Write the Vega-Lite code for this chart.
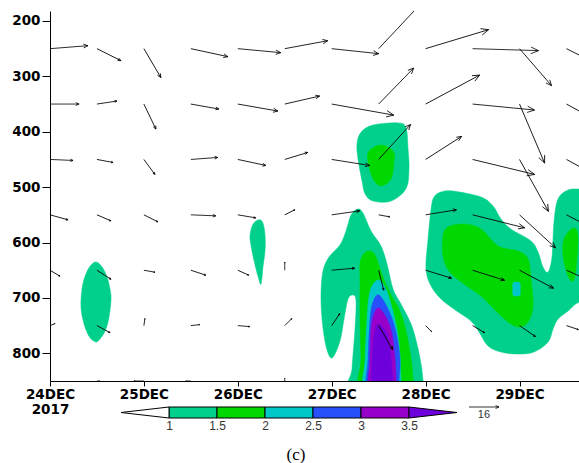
{
  "$schema": "https://vega.github.io/schema/vega-lite/v6.json",
  "padding": {"left": 11, "top": 11, "right": 0, "bottom": 0},
  "config": {"view": {"stroke": null}, "axis": {"domainColor": "#000", "tickColor": "#000", "labelColor": "#000", "grid": false}},
  "title": {"text": "(c)", "orient": "bottom", "anchor": "middle", "frame": "bounds", "offset": 16, "font": "Liberation Serif", "fontSize": 17, "fontWeight": "normal", "color": "#000"},
  "datasets": {
    "poly": [
      {"id":"a","lev":1,"o":0,"t":0.490,"p":635},{"id":"a","lev":1,"o":1,"t":0.554,"p":644},{"id":"a","lev":1,"o":2,"t":0.607,"p":662},{"id":"a","lev":1,"o":3,"t":0.639,"p":684},{"id":"a","lev":1,"o":4,"t":0.650,"p":702},{"id":"a","lev":1,"o":5,"t":0.628,"p":735},{"id":"a","lev":1,"o":6,"t":0.586,"p":760},{"id":"a","lev":1,"o":7,"t":0.511,"p":778},{"id":"a","lev":1,"o":8,"t":0.469,"p":778},{"id":"a","lev":1,"o":9,"t":0.415,"p":769},{"id":"a","lev":1,"o":10,"t":0.362,"p":747},{"id":"a","lev":1,"o":11,"t":0.330,"p":717},{"id":"a","lev":1,"o":12,"t":0.341,"p":684},{"id":"a","lev":1,"o":13,"t":0.373,"p":661},{"id":"a","lev":1,"o":14,"t":0.426,"p":643},
      {"id":"b","lev":1,"o":0,"t":2.226,"p":559},{"id":"b","lev":1,"o":1,"t":2.268,"p":565},{"id":"b","lev":1,"o":2,"t":2.290,"p":587},{"id":"b","lev":1,"o":3,"t":2.290,"p":615},{"id":"b","lev":1,"o":4,"t":2.268,"p":644},{"id":"b","lev":1,"o":5,"t":2.247,"p":675},{"id":"b","lev":1,"o":6,"t":2.215,"p":661},{"id":"b","lev":1,"o":7,"t":2.173,"p":633},{"id":"b","lev":1,"o":8,"t":2.141,"p":606},{"id":"b","lev":1,"o":9,"t":2.130,"p":587},{"id":"b","lev":1,"o":10,"t":2.162,"p":567},
      {"id":"c","lev":1,"o":0,"t":3.312,"p":401},{"id":"c","lev":1,"o":1,"t":3.440,"p":388},{"id":"c","lev":1,"o":2,"t":3.706,"p":384},{"id":"c","lev":1,"o":3,"t":3.791,"p":393},{"id":"c","lev":1,"o":4,"t":3.813,"p":431},{"id":"c","lev":1,"o":5,"t":3.823,"p":467},{"id":"c","lev":1,"o":6,"t":3.791,"p":503},{"id":"c","lev":1,"o":7,"t":3.632,"p":525},{"id":"c","lev":1,"o":8,"t":3.440,"p":525},{"id":"c","lev":1,"o":9,"t":3.355,"p":512},{"id":"c","lev":1,"o":10,"t":3.323,"p":489},{"id":"c","lev":1,"o":11,"t":3.280,"p":449},{"id":"c","lev":1,"o":12,"t":3.269,"p":422},
      {"id":"e","lev":1,"o":0,"t":3.280,"p":539.5},{"id":"e","lev":1,"o":1,"t":3.333,"p":546.8},{"id":"e","lev":1,"o":2,"t":3.419,"p":579.3},{"id":"e","lev":1,"o":3,"t":3.525,"p":606.3},{"id":"e","lev":1,"o":4,"t":3.589,"p":638.8},{"id":"e","lev":1,"o":5,"t":3.653,"p":684.0},{"id":"e","lev":1,"o":6,"t":3.738,"p":711.1},{"id":"e","lev":1,"o":7,"t":3.845,"p":747.2},{"id":"e","lev":1,"o":8,"t":3.908,"p":783.3},{"id":"e","lev":1,"o":9,"t":3.951,"p":819.4},{"id":"e","lev":1,"o":10,"t":3.972,"p":848.3},{"id":"e","lev":1,"o":11,"t":3.983,"p":873.6},{"id":"e","lev":1,"o":12,"t":3.206,"p":873.6},{"id":"e","lev":1,"o":13,"t":3.216,"p":828.4},{"id":"e","lev":1,"o":14,"t":3.248,"p":756.2},{"id":"e","lev":1,"o":15,"t":3.259,"p":705.7},{"id":"e","lev":1,"o":16,"t":3.227,"p":694.8},{"id":"e","lev":1,"o":17,"t":3.174,"p":702.0},{"id":"e","lev":1,"o":18,"t":3.131,"p":738.2},{"id":"e","lev":1,"o":19,"t":3.088,"p":777.9},{"id":"e","lev":1,"o":20,"t":3.003,"p":808.6},{"id":"e","lev":1,"o":21,"t":2.939,"p":786.9},{"id":"e","lev":1,"o":22,"t":2.897,"p":738.2},{"id":"e","lev":1,"o":23,"t":2.886,"p":693.0},{"id":"e","lev":1,"o":24,"t":2.907,"p":651.5},{"id":"e","lev":1,"o":25,"t":2.971,"p":626.2},{"id":"e","lev":1,"o":26,"t":3.088,"p":604.5},{"id":"e","lev":1,"o":27,"t":3.152,"p":579.3},{"id":"e","lev":1,"o":28,"t":3.206,"p":550.4},
      {"id":"k","lev":1,"o":0,"t":4.164,"p":508.8},{"id":"k","lev":1,"o":1,"t":4.292,"p":507.0},{"id":"k","lev":1,"o":2,"t":4.590,"p":517.9},{"id":"k","lev":1,"o":3,"t":4.718,"p":534.1},{"id":"k","lev":1,"o":4,"t":4.803,"p":557.6},{"id":"k","lev":1,"o":5,"t":4.909,"p":575.6},{"id":"k","lev":1,"o":6,"t":5.122,"p":597.3},{"id":"k","lev":1,"o":7,"t":5.197,"p":617.2},{"id":"k","lev":1,"o":8,"t":5.250,"p":644.3},{"id":"k","lev":1,"o":9,"t":5.304,"p":653.3},{"id":"k","lev":1,"o":10,"t":5.346,"p":626.2},{"id":"k","lev":1,"o":11,"t":5.367,"p":563.0},{"id":"k","lev":1,"o":12,"t":5.410,"p":521.5},{"id":"k","lev":1,"o":13,"t":5.517,"p":505.2},{"id":"k","lev":1,"o":14,"t":5.644,"p":503.4},{"id":"k","lev":1,"o":15,"t":5.868,"p":503.4},{"id":"k","lev":1,"o":16,"t":5.868,"p":711.1},{"id":"k","lev":1,"o":17,"t":5.644,"p":707.5},{"id":"k","lev":1,"o":18,"t":5.517,"p":723.7},{"id":"k","lev":1,"o":19,"t":5.410,"p":738.2},{"id":"k","lev":1,"o":20,"t":5.357,"p":756.2},{"id":"k","lev":1,"o":21,"t":5.304,"p":779.7},{"id":"k","lev":1,"o":22,"t":5.154,"p":797.7},{"id":"k","lev":1,"o":23,"t":4.984,"p":801.4},{"id":"k","lev":1,"o":24,"t":4.803,"p":797.7},{"id":"k","lev":1,"o":25,"t":4.665,"p":786.9},{"id":"k","lev":1,"o":26,"t":4.569,"p":761.6},{"id":"k","lev":1,"o":27,"t":4.483,"p":741.8},{"id":"k","lev":1,"o":28,"t":4.302,"p":720.1},{"id":"k","lev":1,"o":29,"t":4.164,"p":702.0},{"id":"k","lev":1,"o":30,"t":4.058,"p":678.6},{"id":"k","lev":1,"o":31,"t":4.004,"p":647.9},{"id":"k","lev":1,"o":32,"t":4.026,"p":593.7},{"id":"k","lev":1,"o":33,"t":4.058,"p":539.5},{"id":"k","lev":1,"o":34,"t":4.089,"p":517.9},
      {"id":"d","lev":1.5,"o":0,"t":3.525,"p":424},{"id":"d","lev":1.5,"o":1,"t":3.653,"p":435},{"id":"d","lev":1.5,"o":2,"t":3.663,"p":455},{"id":"d","lev":1.5,"o":3,"t":3.632,"p":485},{"id":"d","lev":1.5,"o":4,"t":3.525,"p":498},{"id":"d","lev":1.5,"o":5,"t":3.440,"p":485},{"id":"d","lev":1.5,"o":6,"t":3.387,"p":455},{"id":"d","lev":1.5,"o":7,"t":3.397,"p":435},
      {"id":"f","lev":1.5,"o":0,"t":3.333,"p":622.6},{"id":"f","lev":1.5,"o":1,"t":3.387,"p":615.4},{"id":"f","lev":1.5,"o":2,"t":3.461,"p":622.6},{"id":"f","lev":1.5,"o":3,"t":3.546,"p":662.3},{"id":"f","lev":1.5,"o":4,"t":3.632,"p":694.8},{"id":"f","lev":1.5,"o":5,"t":3.717,"p":720.1},{"id":"f","lev":1.5,"o":6,"t":3.781,"p":752.6},{"id":"f","lev":1.5,"o":7,"t":3.823,"p":786.9},{"id":"f","lev":1.5,"o":8,"t":3.855,"p":823.0},{"id":"f","lev":1.5,"o":9,"t":3.866,"p":848.3},{"id":"f","lev":1.5,"o":10,"t":3.876,"p":873.6},{"id":"f","lev":1.5,"o":11,"t":3.312,"p":873.6},{"id":"f","lev":1.5,"o":12,"t":3.312,"p":810.4},{"id":"f","lev":1.5,"o":13,"t":3.301,"p":738.2},{"id":"f","lev":1.5,"o":14,"t":3.301,"p":675.0},{"id":"f","lev":1.5,"o":15,"t":3.301,"p":638.8},
      {"id":"l","lev":1.5,"o":0,"t":4.185,"p":588.3},{"id":"l","lev":1.5,"o":1,"t":4.239,"p":572.0},{"id":"l","lev":1.5,"o":2,"t":4.409,"p":566.6},{"id":"l","lev":1.5,"o":3,"t":4.590,"p":575.6},{"id":"l","lev":1.5,"o":4,"t":4.771,"p":606.3},{"id":"l","lev":1.5,"o":5,"t":4.984,"p":615.4},{"id":"l","lev":1.5,"o":6,"t":5.091,"p":629.8},{"id":"l","lev":1.5,"o":7,"t":5.122,"p":666.0},{"id":"l","lev":1.5,"o":8,"t":5.144,"p":714.7},{"id":"l","lev":1.5,"o":9,"t":5.091,"p":743.6},{"id":"l","lev":1.5,"o":10,"t":4.995,"p":752.6},{"id":"l","lev":1.5,"o":11,"t":4.877,"p":743.6},{"id":"l","lev":1.5,"o":12,"t":4.728,"p":720.1},{"id":"l","lev":1.5,"o":13,"t":4.590,"p":696.6},{"id":"l","lev":1.5,"o":14,"t":4.409,"p":675.0},{"id":"l","lev":1.5,"o":15,"t":4.249,"p":651.5},{"id":"l","lev":1.5,"o":16,"t":4.185,"p":624.4},
      {"id":"m","lev":1.5,"o":0,"t":5.474,"p":593.7},{"id":"m","lev":1.5,"o":1,"t":5.570,"p":573.8},{"id":"m","lev":1.5,"o":2,"t":5.623,"p":588.3},{"id":"m","lev":1.5,"o":3,"t":5.602,"p":647.9},{"id":"m","lev":1.5,"o":4,"t":5.570,"p":669.5},{"id":"m","lev":1.5,"o":5,"t":5.517,"p":660.5},{"id":"m","lev":1.5,"o":6,"t":5.463,"p":624.4},
      {"id":"g","lev":2,"o":0,"t":3.440,"p":675.0},{"id":"g","lev":2,"o":1,"t":3.504,"p":667.7},{"id":"g","lev":2,"o":2,"t":3.568,"p":680.4},{"id":"g","lev":2,"o":3,"t":3.632,"p":711.1},{"id":"g","lev":2,"o":4,"t":3.695,"p":756.2},{"id":"g","lev":2,"o":5,"t":3.727,"p":801.4},{"id":"g","lev":2,"o":6,"t":3.738,"p":848.3},{"id":"g","lev":2,"o":7,"t":3.749,"p":873.6},{"id":"g","lev":2,"o":8,"t":3.355,"p":873.6},{"id":"g","lev":2,"o":9,"t":3.355,"p":810.4},{"id":"g","lev":2,"o":10,"t":3.376,"p":738.2},{"id":"g","lev":2,"o":11,"t":3.397,"p":696.6},
      {"id":"n","lev":2,"o":0,"t":4.931,"p":673.2},{"id":"n","lev":2,"o":1,"t":4.968,"p":671.5},{"id":"n","lev":2,"o":2,"t":5.005,"p":673.2},{"id":"n","lev":2,"o":3,"t":5.008,"p":684.0},{"id":"n","lev":2,"o":4,"t":5.005,"p":694.8},{"id":"n","lev":2,"o":5,"t":4.968,"p":696.5},{"id":"n","lev":2,"o":6,"t":4.931,"p":694.8},{"id":"n","lev":2,"o":7,"t":4.928,"p":684.0},
      {"id":"h","lev":2.5,"o":0,"t":3.440,"p":707.5},{"id":"h","lev":2.5,"o":1,"t":3.504,"p":694.8},{"id":"h","lev":2.5,"o":2,"t":3.610,"p":723.7},{"id":"h","lev":2.5,"o":3,"t":3.685,"p":761.6},{"id":"h","lev":2.5,"o":4,"t":3.727,"p":810.4},{"id":"h","lev":2.5,"o":5,"t":3.717,"p":848.3},{"id":"h","lev":2.5,"o":6,"t":3.717,"p":873.6},{"id":"h","lev":2.5,"o":7,"t":3.387,"p":873.6},{"id":"h","lev":2.5,"o":8,"t":3.387,"p":810.4},{"id":"h","lev":2.5,"o":9,"t":3.408,"p":738.2},
      {"id":"i","lev":3,"o":0,"t":3.451,"p":729.1},{"id":"i","lev":3,"o":1,"t":3.504,"p":718.3},{"id":"i","lev":3,"o":2,"t":3.589,"p":738.2},{"id":"i","lev":3,"o":3,"t":3.642,"p":765.2},{"id":"i","lev":3,"o":4,"t":3.674,"p":810.4},{"id":"i","lev":3,"o":5,"t":3.685,"p":848.3},{"id":"i","lev":3,"o":6,"t":3.685,"p":873.6},{"id":"i","lev":3,"o":7,"t":3.408,"p":873.6},{"id":"i","lev":3,"o":8,"t":3.408,"p":810.4},{"id":"i","lev":3,"o":9,"t":3.419,"p":756.2},
      {"id":"j","lev":3.5,"o":0,"t":3.461,"p":759.8},{"id":"j","lev":3.5,"o":1,"t":3.493,"p":747.2},{"id":"j","lev":3.5,"o":2,"t":3.578,"p":761.6},{"id":"j","lev":3.5,"o":3,"t":3.621,"p":792.3},{"id":"j","lev":3.5,"o":4,"t":3.642,"p":828.4},{"id":"j","lev":3.5,"o":5,"t":3.653,"p":848.3},{"id":"j","lev":3.5,"o":6,"t":3.653,"p":873.6},{"id":"j","lev":3.5,"o":7,"t":3.440,"p":873.6},{"id":"j","lev":3.5,"o":8,"t":3.429,"p":828.4},{"id":"j","lev":3.5,"o":9,"t":3.440,"p":783.3}
    ],
    "vec": [
      {"t":0,"p":250,"ang":-4.5,"spd":20.3},{"t":0.5,"p":250,"ang":26.6,"spd":14.3},{"t":1,"p":250,"ang":59.6,"spd":17.9},{"t":1.5,"p":250,"ang":12.2,"spd":20.2},{"t":2,"p":250,"ang":5.3,"spd":23.0},{"t":2.5,"p":250,"ang":-10.5,"spd":23.3},{"t":3,"p":250,"ang":6.1,"spd":25.2},{"t":3.5,"p":250,"ang":-46.8,"spd":35.1},{"t":4,"p":250,"ang":-16.8,"spd":35.1},{"t":4.5,"p":250,"ang":1.7,"spd":35.2},{"t":5,"p":250,"ang":49.1,"spd":26.1},{"t":5.5,"p":250,"ang":26.6,"spd":21.3},
      {"t":0,"p":350,"ang":0,"spd":15.5},{"t":0.5,"p":350,"ang":-8.5,"spd":10.8},{"t":1,"p":350,"ang":64.4,"spd":14.8},{"t":1.5,"p":350,"ang":10.1,"spd":15.2},{"t":2,"p":350,"ang":9.9,"spd":21.7},{"t":2.5,"p":350,"ang":-12.9,"spd":19.1},{"t":3,"p":350,"ang":10.1,"spd":33.6},{"t":3.5,"p":350,"ang":-45.8,"spd":26.8},{"t":4,"p":350,"ang":-28.2,"spd":32.7},{"t":4.5,"p":350,"ang":5.5,"spd":33.2},{"t":5,"p":350,"ang":67.0,"spd":34.2},{"t":5.5,"p":350,"ang":28.7,"spd":24},
      {"t":0,"p":450,"ang":2.5,"spd":12.3},{"t":0.5,"p":450,"ang":10.6,"spd":8.7},{"t":1,"p":450,"ang":53.7,"spd":9.9},{"t":1.5,"p":450,"ang":-4.2,"spd":14.4},{"t":2,"p":450,"ang":12.1,"spd":15.3},{"t":2.5,"p":450,"ang":-16.9,"spd":12.8},{"t":3,"p":450,"ang":9.0,"spd":20.5},{"t":3.5,"p":450,"ang":-47.6,"spd":25.3},{"t":4,"p":450,"ang":-32.6,"spd":22.8},{"t":4.5,"p":450,"ang":13.6,"spd":34.0},{"t":5,"p":450,"ang":60.9,"spd":31.7},{"t":5.5,"p":450,"ang":28.7,"spd":24},
      {"t":0,"p":550,"ang":15.5,"spd":10.0},{"t":0.5,"p":550,"ang":23.2,"spd":8.1},{"t":1,"p":550,"ang":26.6,"spd":8.3},{"t":1.5,"p":550,"ang":2.3,"spd":13.3},{"t":2,"p":550,"ang":9.5,"spd":9.7},{"t":2.5,"p":550,"ang":-26.6,"spd":6.0},{"t":3,"p":550,"ang":-8.1,"spd":15.1},{"t":3.5,"p":550,"ang":10.3,"spd":6.0},{"t":4,"p":550,"ang":-9.2,"spd":16.7},{"t":4.5,"p":550,"ang":14.0,"spd":28.6},{"t":5,"p":550,"ang":42.5,"spd":26.0},{"t":5.5,"p":550,"ang":27.6,"spd":21},
      {"t":0,"p":650,"ang":31,"spd":6.2},{"t":0.5,"p":650,"ang":32.7,"spd":8.9},{"t":1,"p":650,"ang":10.3,"spd":6.0},{"t":1.5,"p":650,"ang":18.4,"spd":8.4},{"t":2,"p":650,"ang":24.4,"spd":6.4},{"t":2.5,"p":650,"ang":-90,"spd":4.3},{"t":3,"p":650,"ang":-5.0,"spd":12.3},{"t":3.5,"p":650,"ang":76,"spd":11.0},{"t":4,"p":650,"ang":17.1,"spd":14.5},{"t":4.5,"p":650,"ang":17.4,"spd":17.9},{"t":5,"p":650,"ang":27.9,"spd":20.5},{"t":5.5,"p":650,"ang":24.3,"spd":19},
      {"t":0,"p":750,"ang":-21.8,"spd":2.9},{"t":0.5,"p":750,"ang":28.3,"spd":7.9},{"t":1,"p":750,"ang":-81.9,"spd":3.8},{"t":1.5,"p":750,"ang":-6.3,"spd":4.8},{"t":2,"p":750,"ang":4.8,"spd":6.4},{"t":2.5,"p":750,"ang":-45,"spd":5.3},{"t":3,"p":750,"ang":-56.3,"spd":7.7},{"t":3.5,"p":750,"ang":59.7,"spd":14.8},{"t":4,"p":750,"ang":45,"spd":4.5},{"t":4.5,"p":750,"ang":30.3,"spd":7.4},{"t":5,"p":750,"ang":34.5,"spd":10.3},{"t":5.5,"p":750,"ang":18.4,"spd":6.7},
      {"t":0.5,"p":850,"ang":0,"spd":1.6},{"t":1,"p":850,"ang":180,"spd":5.3},{"t":1.5,"p":850,"ang":180,"spd":2.7},{"t":2.5,"p":850,"ang":-90,"spd":1.6}
    ],
    "bar": [
      {"x":1,"xe":1.5,"y":0,"ye":1,"lo":"1"},{"x":1.5,"xe":2,"y":0,"ye":1,"lo":"1.5"},{"x":2,"xe":2.5,"y":0,"ye":1,"lo":"2"},{"x":2.5,"xe":3,"y":0,"ye":1,"lo":"2.5"},{"x":3,"xe":3.5,"y":0,"ye":1,"lo":"3"}
    ],
    "tri": [
      {"id":"L","o":0,"x":0.5,"y":0.5},{"id":"L","o":1,"x":1,"y":1},{"id":"L","o":2,"x":1,"y":0},
      {"id":"R","o":0,"x":3.5,"y":1},{"id":"R","o":1,"x":4,"y":0.5},{"id":"R","o":2,"x":3.5,"y":0}
    ],
    "ref": [{"x":4.125,"y":1,"spd":16,"ang":0,"lab":"16","ly":0.27,"lx":4.281}]
  },
  "vconcat": [
    {
      "width": 530,
      "height": 370,
      "encoding": {
        "x": {"field": "t", "type": "quantitative", "scale": {"domain": [0, 5.644], "nice": false, "zero": false},
              "axis": {"values": [0,1,2,3,4,5], "labelExpr": "datum.value == 0 ? ['24DEC', '2017'] : (24 + datum.value) + 'DEC'", "title": null, "tickSize": 5, "labelPadding": 1, "labelFont": "DejaVu Sans", "labelFontWeight": "bold", "labelFontSize": 13.5, "labelLineHeight": 15, "labelFlush": false, "labelOverlap": false}},
        "y": {"field": "p", "type": "quantitative", "scale": {"domain": [182, 850], "reverse": true, "nice": false, "zero": false},
              "axis": {"values": [200,300,400,500,600,700,800], "title": null, "tickSize": 8, "labelPadding": 2, "labelFont": "DejaVu Sans", "labelFontWeight": "bold", "labelFontSize": 13.5}}
      },
      "layer": [
        {"data": {"name": "poly"}, "transform": [{"filter": "datum.lev === 1"}],
         "mark": {"type": "line", "interpolate": "cardinal-closed", "fill": "#00D08C", "stroke": "#00D08C", "strokeWidth": 0.5, "clip": true},
         "encoding": {"detail": {"field": "id"}, "order": {"field": "o"}}},
        {"data": {"name": "poly"}, "transform": [{"filter": "datum.lev === 1.5"}],
         "mark": {"type": "line", "interpolate": "cardinal-closed", "fill": "#00D800", "stroke": "#00D800", "strokeWidth": 0.5, "clip": true},
         "encoding": {"detail": {"field": "id"}, "order": {"field": "o"}}},
        {"data": {"name": "poly"}, "transform": [{"filter": "datum.lev === 2"}],
         "mark": {"type": "line", "interpolate": "cardinal-closed", "fill": "#00C8C8", "stroke": "#00C8C8", "strokeWidth": 0.5, "clip": true},
         "encoding": {"detail": {"field": "id"}, "order": {"field": "o"}}},
        {"data": {"name": "poly"}, "transform": [{"filter": "datum.lev === 2.5"}],
         "mark": {"type": "line", "interpolate": "cardinal-closed", "fill": "#2850FA", "stroke": "#2850FA", "strokeWidth": 0.5, "clip": true},
         "encoding": {"detail": {"field": "id"}, "order": {"field": "o"}}},
        {"data": {"name": "poly"}, "transform": [{"filter": "datum.lev === 3"}],
         "mark": {"type": "line", "interpolate": "cardinal-closed", "fill": "#9600C8", "stroke": "#9600C8", "strokeWidth": 0.5, "clip": true},
         "encoding": {"detail": {"field": "id"}, "order": {"field": "o"}}},
        {"data": {"name": "poly"}, "transform": [{"filter": "datum.lev === 3.5"}],
         "mark": {"type": "line", "interpolate": "cardinal-closed", "fill": "#6E00DC", "stroke": "#6E00DC", "strokeWidth": 0.5, "clip": true},
         "encoding": {"detail": {"field": "id"}, "order": {"field": "o"}}},
        {"data": {"name": "vec"},
         "mark": {"type": "point", "shape": "M0,0L2,0M1.77,-0.1L2,0L1.77,0.1", "filled": false, "stroke": "#000", "strokeWidth": 0.8, "opacity": 1, "clip": true},
         "encoding": {"angle": {"field": "ang", "type": "quantitative", "scale": null},
                      "size": {"field": "spd", "type": "quantitative", "scale": {"type": "pow", "exponent": 2, "domain": [0, 16], "range": [0, 900]}, "legend": null}}},
        {"data": {"values": [{}]},
         "mark": {"type": "rule", "color": "#333", "strokeWidth": 1.5},
         "encoding": {"x": {"datum": 0}, "x2": {"datum": 5.644}, "y": {"datum": 182}}}
      ]
    },
    {
      "width": 530,
      "height": 11,
      "encoding": {
        "x": {"field": "x", "type": "quantitative", "scale": {"domain": [-0.2396, 5.281], "nice": false, "zero": false},
              "axis": {"values": [1,1.5,2,2.5,3,3.5], "labelExpr": "'' + datum.value", "title": null, "domain": false, "ticks": false, "labelPadding": 2, "labelFont": "Liberation Sans", "labelFontSize": 12, "labelColor": "#333", "labelFlush": false}},
        "y": {"field": "y", "type": "quantitative", "scale": {"domain": [0, 1], "nice": false, "zero": false}, "axis": null}
      },
      "layer": [
        {"data": {"name": "bar"},
         "mark": {"type": "rect", "stroke": "#000", "strokeWidth": 1},
         "encoding": {"x2": {"field": "xe"}, "y2": {"field": "ye"},
                      "fill": {"field": "lo", "type": "nominal", "scale": {"domain": ["1","1.5","2","2.5","3"], "range": ["#00D08C","#00D800","#00C8C8","#2850FA","#9600C8"]}, "legend": null}}},
        {"data": {"name": "tri"}, "transform": [{"filter": "datum.id === 'L'"}],
         "mark": {"type": "line", "interpolate": "linear-closed", "fill": "#fff", "stroke": "#000", "strokeWidth": 1},
         "encoding": {"order": {"field": "o"}}},
        {"data": {"name": "tri"}, "transform": [{"filter": "datum.id === 'R'"}],
         "mark": {"type": "line", "interpolate": "linear-closed", "fill": "#6E00DC", "stroke": "#000", "strokeWidth": 1},
         "encoding": {"order": {"field": "o"}}},
        {"data": {"name": "ref"},
         "mark": {"type": "point", "shape": "M0,0L2,0M1.77,-0.1L2,0L1.77,0.1", "filled": false, "stroke": "#000", "strokeWidth": 0.8, "opacity": 1},
         "encoding": {"angle": {"field": "ang", "type": "quantitative", "scale": null},
                      "size": {"field": "spd", "type": "quantitative", "scale": {"type": "pow", "exponent": 2, "domain": [0, 16], "range": [0, 900]}, "legend": null}}},
        {"data": {"name": "ref"},
         "mark": {"type": "text", "font": "Liberation Sans", "fontSize": 11, "color": "#333", "baseline": "middle", "align": "center"},
         "encoding": {"x": {"field": "lx", "type": "quantitative"}, "y": {"field": "ly", "type": "quantitative"}, "text": {"field": "lab"}}}
      ]
    }
  ],
  "spacing": 26,
  "bounds": "flush"
}
